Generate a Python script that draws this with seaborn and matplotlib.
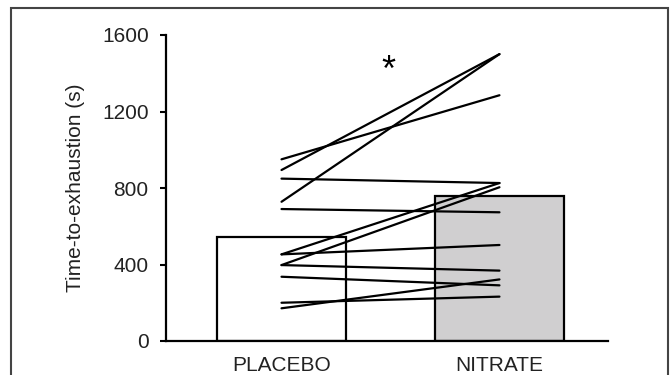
import matplotlib
matplotlib.use("Agg")
import matplotlib.pyplot as plt
import seaborn as sns
import pandas as pd
from matplotlib.patches import Rectangle

categories = ["PLACEBO", "NITRATE"]
placebo = [950, 894, 728, 849, 690, 453, 453, 397, 397, 336, 200, 171]
nitrate = [1285, 1500, 1500, 826, 673, 826, 502, 804, 368, 291, 232, 322]
yticks = [0, 400, 800, 1200, 1600]

subjects = list(range(len(placebo)))
df = pd.DataFrame({
    "subject": subjects + subjects,
    "condition": [categories[0]] * len(placebo) + [categories[1]] * len(nitrate),
    "pos": [0] * len(placebo) + [1] * len(nitrate),
    "time": placebo + nitrate,
})

sns.set_style("ticks")
plt.rcParams["font.family"] = ["Liberation Sans", "DejaVu Sans"]

fig = plt.figure(figsize=(6.7, 3.75), dpi=100)
ax = fig.add_axes([166 / 670, 1 - 341 / 375, (608 - 166) / 670, (341 - 35) / 375])

sns.barplot(data=df, x="condition", y="time", order=categories, errorbar=None,
            palette=["white", "#d0cfd0"], hue="condition", legend=False,
            edgecolor="black", linewidth=1.6, width=0.59, ax=ax, zorder=1)

sns.lineplot(data=df, x="pos", y="time", units="subject", estimator=None,
             color="black", linewidth=1.6, ax=ax, zorder=3, legend=False)

ax.set_xlim(-0.53, 1.498)
ax.set_ylim(0, 1600)
ax.set_yticks(yticks)
ax.set_xticks([0, 1])
ax.set_xticklabels(categories)
ax.set_xlabel("")
ax.set_ylabel("Time-to-exhaustion (s)", fontsize=15, color="#222222", labelpad=12)
ax.tick_params(axis="y", length=4.5, width=1.5, pad=8, labelsize=15, colors="black", labelcolor="#222222")
ax.tick_params(axis="x", length=0, pad=11, labelsize=15, labelcolor="#222222")
for s in ["top", "right"]:
    ax.spines[s].set_visible(False)
for s in ["left", "bottom"]:
    ax.spines[s].set_linewidth(1.6)
    ax.spines[s].set_color("black")

ax.text(0.49, 1410, "*", fontsize=26, ha="center", va="center", color="black")

fig.patches.append(Rectangle((11 / 670, -0.05), (668 - 11) / 670, 1 - 8 / 375 + 0.05,
                             transform=fig.transFigure, fill=False,
                             edgecolor="#444444", linewidth=1.5))

fig.savefig("out.png", dpi=100)
